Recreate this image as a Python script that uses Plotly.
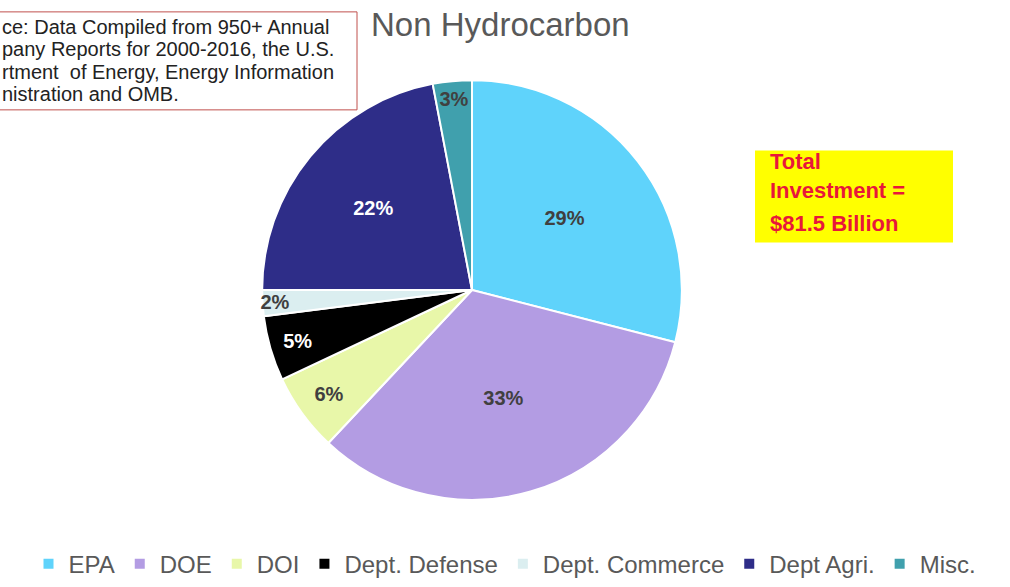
import plotly.graph_objects as go

# Non-hydrocarbon investment share by agency (percent)
agencies = ["EPA", "DOE", "DOI", "Dept. Defense", "Dept. Commerce", "Dept Agri.", "Misc."]
shares = [29, 33, 6, 5, 2, 22, 3]

slice_colors = ["#5fd3fb", "#b39ce3", "#e8f7a9", "#000000", "#dbeef0", "#2e2d88", "#40a0ad"]
label_colors = ["#404040", "#404040", "#404040", "#ffffff", "#404040", "#ffffff", "#404040"]

source_lines = [
    "ce: Data Compiled from 950+ Annual",
    "pany Reports for 2000-2016, the U.S.",
    "rtment  of Energy, Energy Information",
    "nistration and OMB.",
]
total_heading = "Total<br>Investment ="
total_amount = "$81.5 Billion"

W, H = 1010, 587
cx, cy, r = 472, 293, 212  # pie centre / radius in pixels


def px(x):
    return x / W


def py(y):
    return 1 - y / H


fig = go.Figure(
    go.Pie(
        labels=agencies,
        values=shares,
        sort=False,
        direction="clockwise",
        rotation=0,
        marker=dict(colors=slice_colors, line=dict(color="#ffffff", width=2)),
        texttemplate="%{value}%",
        textposition="inside",
        insidetextorientation="horizontal",
        textfont=dict(family="Arial", size=20, color=label_colors, weight="bold"),
        hoverinfo="label+percent",
        domain=dict(
            x=[px(cx - r), px(cx + r)],
            y=[py(cy + r), py(cy - r)],
        ),
    )
)

# chart title
fig.add_annotation(
    text="Non Hydrocarbon",
    xref="paper", yref="paper",
    x=px(500), y=py(25),
    xanchor="center", yanchor="middle",
    showarrow=False,
    font=dict(family="Arial", size=33, color="#595959"),
)

# source note box (runs off the left edge)
fig.add_shape(
    type="rect", xref="paper", yref="paper",
    x0=px(-40), x1=px(357), y0=py(111), y1=py(12),
    line=dict(color="#c0504d", width=1), fillcolor="#ffffff",
)
for i, line in enumerate(source_lines):
    fig.add_annotation(
        text=line,
        xref="paper", yref="paper",
        x=0, y=py(27 + 22.7 * i),
        xanchor="left", yanchor="middle",
        showarrow=False,
        font=dict(family="Arial", size=20, color="#222222"),
    )

# total investment callout
fig.add_shape(
    type="rect", xref="paper", yref="paper",
    x0=px(755), x1=px(953), y0=py(245), y1=py(152),
    line=dict(width=0), fillcolor="#ffff00",
)
callout_font = dict(family="Arial", size=22, color="#e8173a", weight="bold")
fig.add_annotation(
    text=total_heading,
    xref="paper", yref="paper",
    x=px(768), y=py(178),
    xanchor="left", yanchor="middle", align="left",
    showarrow=False,
    font=callout_font,
)
fig.add_annotation(
    text=total_amount,
    xref="paper", yref="paper",
    x=px(768), y=py(226),
    xanchor="left", yanchor="middle",
    showarrow=False,
    font=callout_font,
)

fig.update_layout(
    width=W, height=H,
    margin=dict(l=0, r=0, t=0, b=0),
    paper_bgcolor="#ffffff",
    plot_bgcolor="#ffffff",
    showlegend=True,
    uniformtext=dict(minsize=20, mode="show"),
    legend=dict(
        orientation="h",
        x=0.5, xanchor="center",
        y=py(570), yanchor="middle",
        font=dict(family="Arial", size=24, color="#595959"),
        itemwidth=30,
        traceorder="normal",
    ),
)

fig.write_html("out.html")
